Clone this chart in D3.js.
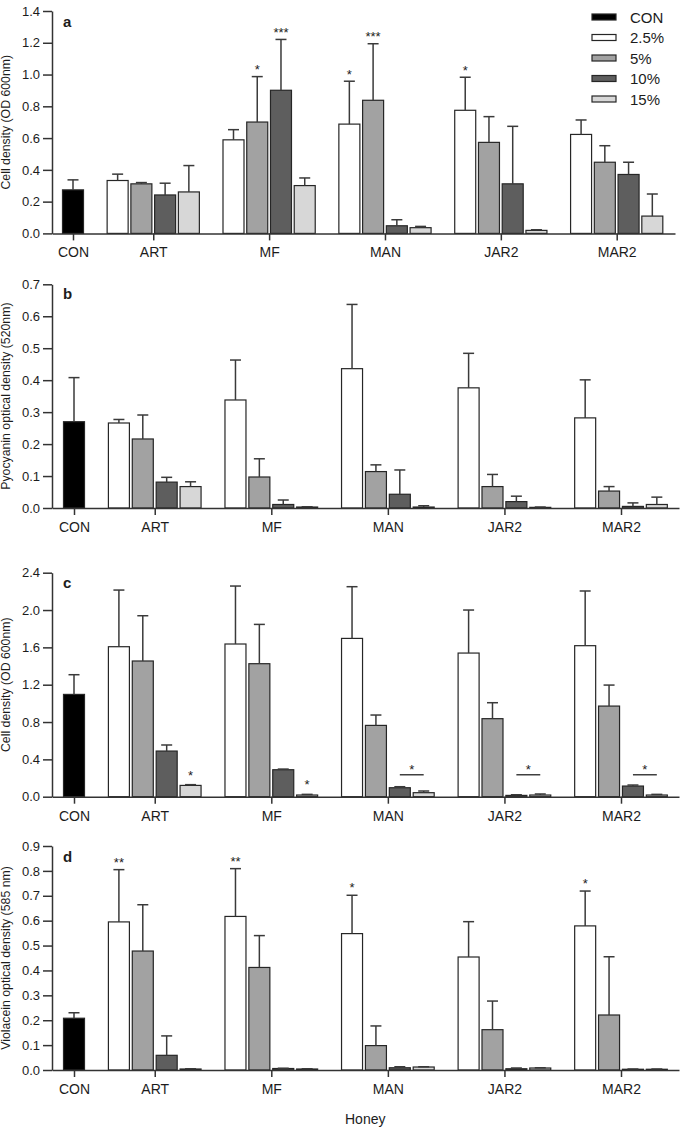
<!DOCTYPE html>
<html>
<head>
<meta charset="utf-8">
<script src="https://cdn.jsdelivr.net/npm/d3@7"></script>
<style>
  html, body { margin: 0; padding: 0; background: #fff; }
  svg { display: block; font-family: "Liberation Sans", Arial, Helvetica, sans-serif; }
</style>
</head>
<body>
<svg id="chart" width="685" height="1129"></svg>
<script>
// ---------------- DATA ----------------
const groups = ["CON", "ART", "MF", "MAN", "JAR2", "MAR2"];
const seriesNames = ["CON", "2.5%", "5%", "10%", "15%"];
const honeySeries = ["2.5%", "5%", "10%", "15%"];

// Panel a: cell density (OD 600nm) — means and SD per group (ART..MAR2 order: 2.5%,5%,10%,15%)
const aCon = [0.274];
const aConSd = [0.063];
const aMeans = [[0.333, 0.312, 0.242, 0.261], [0.589, 0.701, 0.901, 0.301], [0.688, 0.838, 0.048, 0.036], [0.775, 0.573, 0.312, 0.019], [0.623, 0.448, 0.371, 0.109]];
const aSds = [[0.040, 0.008, 0.074, 0.166], [0.064, 0.286, 0.320, 0.048], [0.270, 0.356, 0.038, 0.008], [0.208, 0.162, 0.362, 0.004], [0.091, 0.104, 0.077, 0.139]];
const aTicks = [0, 0.2, 0.4, 0.6, 0.8, 1.0, 1.2, 1.4];

// Panel b: pyocyanin optical density (520nm)
const bCon = [0.270];
const bConSd = [0.138];
const bMeans = [[0.266, 0.216, 0.081, 0.067], [0.338, 0.097, 0.011, 0.003], [0.436, 0.114, 0.043, 0.003], [0.376, 0.067, 0.020, 0.002], [0.282, 0.053, 0.005, 0.011]];
const bSds = [[0.011, 0.075, 0.015, 0.015], [0.125, 0.057, 0.014, 0.001], [0.201, 0.021, 0.076, 0.004], [0.108, 0.038, 0.017, 0.001], [0.119, 0.014, 0.011, 0.023]];
const bTicks = [0, 0.1, 0.2, 0.3, 0.4, 0.5, 0.6, 0.7];

// Panel c: cell density (OD 600nm)
const cCon = [1.096];
const cConSd = [0.211];
const cMeans = [[1.607, 1.454, 0.489, 0.121], [1.636, 1.425, 0.289, 0.018], [1.696, 0.764, 0.096, 0.043], [1.539, 0.836, 0.014, 0.018], [1.618, 0.971, 0.114, 0.018]];
const cSds = [[0.607, 0.485, 0.065, 0.008], [0.621, 0.421, 0.007, 0.007], [0.554, 0.111, 0.011, 0.018], [0.461, 0.171, 0.007, 0.011], [0.586, 0.225, 0.011, 0.007]];
const cTicks = [0, 0.4, 0.8, 1.2, 1.6, 2.0, 2.4];

// Panel d: violacein optical density (585 nm)
const dCon = [0.208];
const dConSd = [0.022];
const dMeans = [[0.595, 0.478, 0.059, 0.004], [0.617, 0.412, 0.006, 0.004], [0.548, 0.098, 0.009, 0.012], [0.454, 0.162, 0.005, 0.008], [0.579, 0.221, 0.003, 0.003]];
const dSds = [[0.210, 0.186, 0.078, 0.001], [0.192, 0.128, 0.001, 0.001], [0.154, 0.079, 0.004, 0.001], [0.142, 0.115, 0.003, 0.001], [0.140, 0.234, 0.001, 0.001]];
const dTicks = [0, 0.1, 0.2, 0.3, 0.4, 0.5, 0.6, 0.7, 0.8, 0.9];

// Significance marks: [group, series, label]
const sigA = [["MF", "5%", "*"], ["MF", "10%", "***"], ["MAN", "2.5%", "*"], ["MAN", "5%", "***"], ["JAR2", "2.5%", "*"]];
const sigC = [["ART", "15%", "*"], ["MF", "15%", "*"]];
const sigCLines = [["MAN", 0.235, "*"], ["JAR2", 0.235, "*"], ["MAR2", 0.235, "*"]];
const sigD = [["ART", "2.5%", "**"], ["MF", "2.5%", "**"], ["MAN", "2.5%", "*"], ["MAR2", "2.5%", "*"]];

const titles = ["Cell density (OD 600nm)", "Pyocyanin optical density (520nm)", "Cell density (OD 600nm)", "Violacein optical density (585 nm)"];
const letters = ["a", "b", "c", "d"];
const xTitle = "Honey";

// ---------------- STYLE / LAYOUT ----------------
const fills = {"CON": "#000000", "2.5%": "#ffffff", "5%": "#a2a2a2", "10%": "#5e5e5e", "15%": "#d7d7d7"};
const GAP = 1.88;          // gap between groups in bar units
const BAR_W = 21;
const CAP_W = 11;
const AXIS_X = 52;

const layouts = [
  {con: aCon, conSd: aConSd, means: aMeans, sds: aSds, ticks: aTicks, sig: sigA, lines: [], y0: 233.4, y1: 11, max: 1.4, xc0: 73, xc1: 616.7, xEnd: 675, starGap: 2.5, letterY: 27},
  {con: bCon, conSd: bConSd, means: bMeans, sds: bSds, ticks: bTicks, sig: [], lines: [], y0: 508, y1: 284.3, max: 0.7, xc0: 74, xc1: 621, xEnd: 679, starGap: 3, letterY: 299},
  {con: cCon, conSd: cConSd, means: cMeans, sds: cSds, ticks: cTicks, sig: sigC, lines: sigCLines, y0: 796.7, y1: 572.7, max: 2.4, xc0: 74, xc1: 621, xEnd: 679, starGap: 5, letterY: 588},
  {con: dCon, conSd: dConSd, means: dMeans, sds: dSds, ticks: dTicks, sig: sigD, lines: [], y0: 1070, y1: 846, max: 0.9, xc0: 74, xc1: 621, xEnd: 679, starGap: 3, letterY: 862}
];

function unitPos(gi, sj) { return gi === 0 ? 0 : GAP + (gi - 1) * (3 + GAP) + sj; }
function groupCentre(gi) { return gi === 0 ? 0 : GAP + (gi - 1) * (3 + GAP) + 1.5; }
const lastCentre = groupCentre(groups.length - 1);

const svg = d3.select("#chart");
const TEXT = "#1c1c1c";
const AXIS_C = "#333333";

layouts.forEach((L, pi) => {
  // x scale in bar units, calibrated by group centres, extended to the axis extents
  const xc = d3.scaleLinear().domain([0, lastCentre]).range([L.xc0, L.xc1]);
  const x = d3.scaleLinear().domain([xc.invert(AXIS_X), xc.invert(L.xEnd)]).range([AXIS_X, L.xEnd]);
  const y = d3.scaleLinear().domain([0, L.max]).range([L.y0, L.y1]);

  const g = svg.append("g");

  // rows of bar records
  const rows = [{gi: 0, s: "CON", sj: 0, v: L.con[0], sd: L.conSd[0]}];
  L.means.forEach((arr, k) => arr.forEach((v, j) => rows.push({gi: k + 1, s: honeySeries[j], sj: j, v: v, sd: L.sds[k][j]})));

  // bars
  g.selectAll("rect.bar").data(rows).join("rect")
    .attr("class", "bar")
    .attr("x", d => x(unitPos(d.gi, d.sj)) - BAR_W / 2)
    .attr("width", BAR_W)
    .attr("y", d => y(d.v))
    .attr("height", d => Math.max(0.8, y(0) - y(d.v)))
    .attr("fill", d => fills[d.s])
    .attr("stroke", "#262626")
    .attr("stroke-width", 1.2);

  // error bars (upper only)
  const eb = g.selectAll("g.eb").data(rows).join("g").attr("class", "eb")
    .attr("stroke", "#3a3a3a").attr("stroke-width", 1.5);
  eb.append("line")
    .attr("x1", d => x(unitPos(d.gi, d.sj))).attr("x2", d => x(unitPos(d.gi, d.sj)))
    .attr("y1", d => y(d.v)).attr("y2", d => y(d.v + d.sd));
  eb.append("line")
    .attr("x1", d => x(unitPos(d.gi, d.sj)) - CAP_W / 2).attr("x2", d => x(unitPos(d.gi, d.sj)) + CAP_W / 2)
    .attr("y1", d => y(d.v + d.sd)).attr("y2", d => y(d.v + d.sd));

  // y axis
  const ya = g.append("g").attr("transform", `translate(${AXIS_X},0)`)
    .call(d3.axisLeft(y).tickValues(L.ticks).tickFormat(d3.format(".1f")).tickSize(9).tickPadding(3).tickSizeOuter(0));
  // x axis
  const xa = g.append("g").attr("transform", `translate(0,${L.y0})`)
    .call(d3.axisBottom(x).tickValues(groups.map((_, i) => groupCentre(i))).tickFormat((d, i) => groups[i]).tickSize(7).tickPadding(7).tickSizeOuter(0));
  [ya, xa].forEach(a => {
    a.selectAll("path.domain").attr("stroke", AXIS_C).attr("stroke-width", 1.5);
    a.selectAll(".tick line").attr("stroke", AXIS_C).attr("stroke-width", 1.5);
    a.selectAll(".tick text").attr("fill", TEXT);
  });
  ya.selectAll(".tick text").style("font-size", "13px").style("font-family", "Liberation Sans, Arial, sans-serif");
  xa.selectAll(".tick text").style("font-size", "14px").style("font-family", "Liberation Sans, Arial, sans-serif");

  // y title
  g.append("text")
    .attr("transform", `translate(10,${(L.y0 + L.y1) / 2}) rotate(-90)`)
    .attr("text-anchor", "middle")
    .style("font-size", "12.3px")
    .attr("fill", TEXT)
    .text(titles[pi]);

  // panel letter
  g.append("text")
    .attr("x", 63).attr("y", L.letterY)
    .style("font-size", "15px").style("font-weight", "bold")
    .attr("fill", TEXT)
    .text(letters[pi]);

  // significance stars above error bars
  L.sig.forEach(([gName, sName, label]) => {
    const r = rows.find(d => groups[d.gi] === gName && d.s === sName);
    g.append("text")
      .attr("x", x(unitPos(r.gi, r.sj)))
      .attr("y", y(r.v + r.sd) - L.starGap)
      .attr("text-anchor", "middle")
      .style("font-size", "13px")
      .attr("fill", TEXT)
      .text(label);
  });

  // bracket lines between 10% and 15%
  L.lines.forEach(([gName, val, label]) => {
    const gi = groups.indexOf(gName);
    const xa1 = x(unitPos(gi, 2)), xa2 = x(unitPos(gi, 3));
    g.append("line")
      .attr("x1", xa1).attr("x2", xa2)
      .attr("y1", y(val)).attr("y2", y(val))
      .attr("stroke", "#333").attr("stroke-width", 1.4);
    g.append("text")
      .attr("x", (xa1 + xa2) / 2)
      .attr("y", y(val) - 0.5)
      .attr("text-anchor", "middle")
      .style("font-size", "13px")
      .attr("fill", TEXT)
      .text(label);
  });
});

// legend
const legY = d3.scaleLinear().domain([0, seriesNames.length - 1]).range([17, 99]);
const leg = svg.append("g");
seriesNames.forEach((s, i) => {
  leg.append("rect")
    .attr("x", 592).attr("y", legY(i) - 3).attr("width", 24).attr("height", 6)
    .attr("fill", fills[s]).attr("stroke", "#262626").attr("stroke-width", 1.2);
  leg.append("text")
    .attr("x", 630).attr("y", legY(i) + 5.8)
    .style("font-size", "15px")
    .attr("fill", TEXT)
    .text(s);
});

// x title
svg.append("text")
  .attr("x", 345).attr("y", 1124)
  .style("font-size", "14px")
  .attr("fill", TEXT)
  .text(xTitle);
</script>
</body>
</html>
